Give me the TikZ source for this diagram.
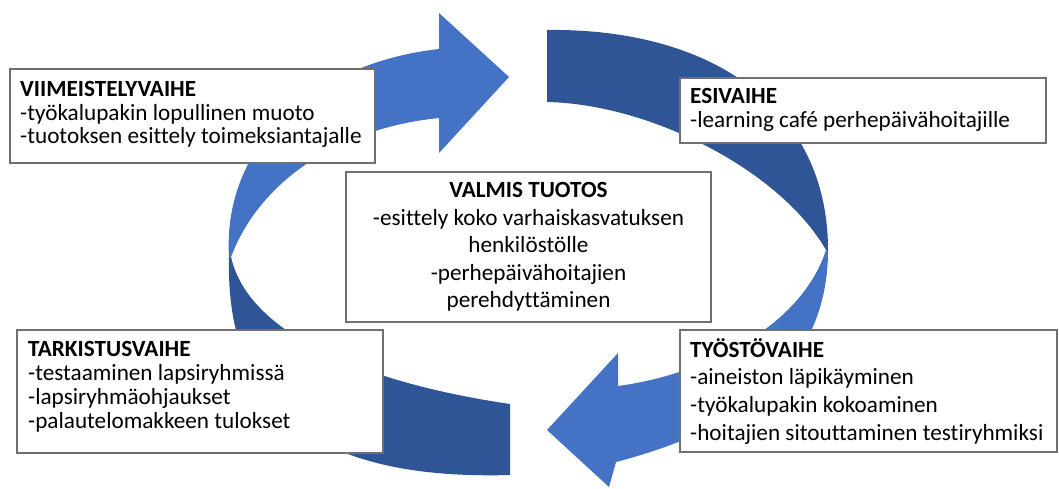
\documentclass[tikz,border=0pt]{standalone}
\usepackage{fontspec}
\setmainfont{Carlito}[Ligatures={NoCommon}]
\definecolor{lightblue}{HTML}{4472C4}
\definecolor{darkblue}{HTML}{2F5597}
\definecolor{boxline}{HTML}{707070}
\begin{document}
\begin{tikzpicture}[x=1pt,y=-1pt,
  box/.style={draw=boxline, line width=1.3pt, fill=white, rectangle, inner sep=0pt, outer sep=0pt, anchor=north west},
  txt/.style={anchor=base west, inner sep=0pt, font=\fontsize{23.2}{26}\selectfont},
  head/.style={anchor=base west, inner sep=0pt, font=\fontsize{23.2}{26}\selectfont\bfseries},
  ctxt/.style={anchor=base, inner sep=0pt, font=\fontsize{23.2}{26}\selectfont},
  chead/.style={anchor=base, inner sep=0pt, font=\fontsize{23.2}{26}\selectfont\bfseries},
  backpart/.style={fill=darkblue},
  frontpart/.style={fill=lightblue}
]
\useasboundingbox[fill=white] (0,0) rectangle (1059,488);

% arrow 1 (left side, pointing right at top)
\fill[backpart] (510,404) -- (510,475) .. controls (330,480) and (225,420) .. (229,257)
  -- (231,257) .. controls (250,340) and (380,385) .. (510,404) -- cycle;
\fill[frontpart] (229,257) .. controls (222,140) and (320,62) .. (439,49)
  -- (439,13) -- (509,77) -- (439,153) -- (439,118)
  .. controls (340,128) and (260,180) .. (231,257) -- cycle;

% arrow 2 (right side, pointing left at bottom)
\fill[backpart] (547,30) .. controls (715,28) and (828,110) .. (828,250)
  -- (826,250) .. controls (780,170) and (650,104) .. (547,102) -- cycle;
\fill[frontpart] (828,250) .. controls (828,380) and (720,435) .. (616,462)
  -- (609,487) -- (547,430) -- (618,353) -- (618,386)
  .. controls (700,375) and (800,330) .. (826,250) -- cycle;

% boxes
\node[box, minimum width=365pt, minimum height=94pt] (viim) at (10,69) {};
\node[box, minimum width=366pt, minimum height=65pt] (esi) at (680,78) {};
\node[box, minimum width=365pt, minimum height=150pt] (valmis) at (346,172) {};
\node[box, minimum width=366pt, minimum height=123pt] (tark) at (17,330) {};
\node[box, minimum width=377pt, minimum height=122pt] (tyos) at (680,330) {};

% texts
\node[head] (viim1) at (20,96) {VIIMEISTELYVAIHE};
\node[txt] (viim2) at (20,120) {-työkalupakin lopullinen muoto};
\node[txt] (viim3) at (20,143.5) {-tuotoksen esittely toimeksiantajalle};

\node[head] (esi1) at (690,103.5) {ESIVAIHE};
\node[txt] (esi2) at (690,127.5) {-learning café perhepäivähoitajille};

\node[chead] (val1) at (528.5,197.5) {VALMIS TUOTOS};
\node[ctxt] (val2) at (528.5,225) {-esittely koko varhaiskasvatuksen};
\node[ctxt] (val3) at (528.5,252.5) {henkilöstölle};
\node[ctxt] (val4) at (528.5,280) {-perhepäivähoitajien};
\node[ctxt] (val5) at (528.5,307.5) {perehdyttäminen};

\node[head] (tark1) at (28,356) {TARKISTUSVAIHE};
\node[txt] (tark2) at (28,380) {-testaaminen lapsiryhmissä};
\node[txt] (tark3) at (28,404) {-lapsiryhmäohjaukset};
\node[txt] (tark4) at (28,428) {-palautelomakkeen tulokset};

\node[head] (tyo1) at (690,357) {TYÖSTÖVAIHE};
\node[txt] (tyo2) at (690,384) {-aineiston läpikäyminen};
\node[txt] (tyo3) at (690,412) {-työkalupakin kokoaminen};
\node[txt] (tyo4) at (690,440) {-hoitajien sitouttaminen testiryhmiksi};
\end{tikzpicture}
\end{document}
